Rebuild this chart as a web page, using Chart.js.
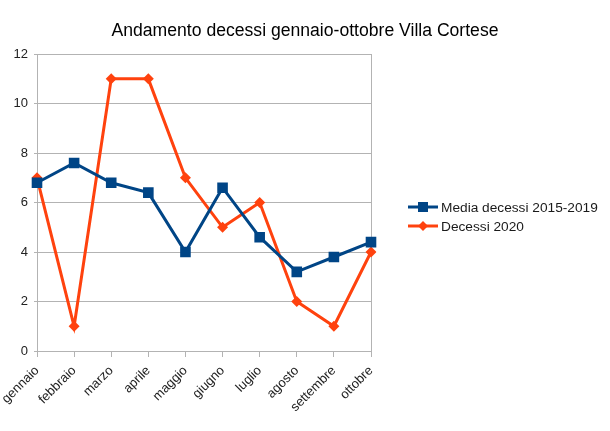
<!DOCTYPE html>
<html>
<head>
<meta charset="utf-8">
<script src="https://cdn.jsdelivr.net/npm/chart.js@4/dist/chart.umd.min.js"></script>
<style>
  html, body { margin: 0; padding: 0; background: #fff; }
  #wrap { width: 610px; height: 431px; }
</style>
</head>
<body>
<div id="wrap"><canvas id="decessiChart"></canvas></div>
<script>
const mesi = ['gennaio', 'febbraio', 'marzo', 'aprile', 'maggio', 'giugno', 'luglio', 'agosto', 'settembre', 'ottobre'];
const media20152019 = [6.8, 7.6, 6.8, 6.4, 4.0, 6.6, 4.6, 3.2, 3.8, 4.4];
const decessi2020 = [7, 1, 11, 11, 7, 5, 6, 2, 1, 4];
const yTicks = [0, 2, 4, 6, 8, 10, 12];

const BLUE = '#004586';
const ORANGE = '#ff420e';
const GRID = '#b3b3b3';

Chart.defaults.font.family = "'Liberation Sans', Arial, sans-serif";
Chart.defaults.color = '#222';

// legenda a destra (linea con marker), disegnata a mano
const legendaDestra = {
    id: 'legendaDestra',
    afterDraw(chart) {
        const ctx = chart.ctx;
        const rows = [207, 226];
        ctx.save();
        chart.data.datasets.forEach(function (ds, i) {
            const y = rows[i];
            ctx.strokeStyle = ds.borderColor;
            ctx.lineWidth = 3;
            ctx.beginPath();
            ctx.moveTo(408, y);
            ctx.lineTo(438, y);
            ctx.stroke();
            ctx.fillStyle = ds.borderColor;
            ctx.beginPath();
            if (ds.pointStyle === 'rect') {
                ctx.rect(418, y - 5, 10, 10);
            } else {
                ctx.moveTo(423, y - 5);
                ctx.lineTo(428, y);
                ctx.lineTo(423, y + 5);
                ctx.lineTo(418, y);
                ctx.closePath();
            }
            ctx.fill();
            ctx.fillStyle = '#1a1a1a';
            ctx.font = "13.7px 'Liberation Sans', Arial, sans-serif";
            ctx.textBaseline = 'middle';
            ctx.textAlign = 'left';
            ctx.fillText(ds.label, 441, y + 1);
        });
        ctx.restore();
    }
};

new Chart(document.getElementById('decessiChart'), {
    type: 'line',
    data: {
        labels: mesi,
        datasets: [
            {
                label: 'Media decessi 2015-2019',
                data: media20152019,
                borderColor: BLUE,
                backgroundColor: BLUE,
                borderWidth: 3,
                pointStyle: 'rect',
                pointRadius: 7.5,
                pointBorderWidth: 0,
                tension: 0
            },
            {
                label: 'Decessi 2020',
                data: decessi2020,
                borderColor: ORANGE,
                backgroundColor: ORANGE,
                borderWidth: 3,
                pointStyle: 'rectRot',
                pointRadius: 5.5,
                pointBorderWidth: 0,
                tension: 0
            }
        ]
    },
    options: {
        responsive: true,
        maintainAspectRatio: false,
        animation: false,
        layout: { padding: 0 },
        plugins: {
            legend: { display: false },
            tooltip: { enabled: false },
            title: {
                display: true,
                text: 'Andamento decessi gennaio-ottobre Villa Cortese',
                color: '#000',
                font: { size: 17.6, weight: 'normal' },
                padding: { top: 21, bottom: 12 }
            }
        },
        scales: {
            x: {
                offset: false,
                grid: { drawOnChartArea: false, color: GRID, tickLength: 6 },
                border: { color: GRID },
                ticks: { maxRotation: 45, minRotation: 45, font: { size: 13 }, padding: 6, color: '#222' },
                afterFit(axis) {
                    axis.height = 80;
                    axis.paddingLeft = 0;
                    axis.paddingRight = 0;
                }
            },
            y: {
                min: 0,
                max: 12,
                afterBuildTicks(axis) { axis.ticks = yTicks.map(function (v) { return { value: v }; }); },
                grid: { color: GRID, tickLength: 3 },
                border: { color: GRID },
                ticks: { font: { size: 13 }, padding: 6, color: '#222' },
                afterFit(axis) { axis.width = 37; }
            },
            // asse vuoto a destra: bordo dell'area e spazio per la legenda
            yr: {
                position: 'right',
                min: 0,
                max: 12,
                grid: { display: false },
                border: { color: GRID },
                ticks: { display: false },
                afterFit(axis) { axis.width = 239; }
            }
        }
    },
    plugins: [legendaDestra]
});
</script>
</body>
</html>
